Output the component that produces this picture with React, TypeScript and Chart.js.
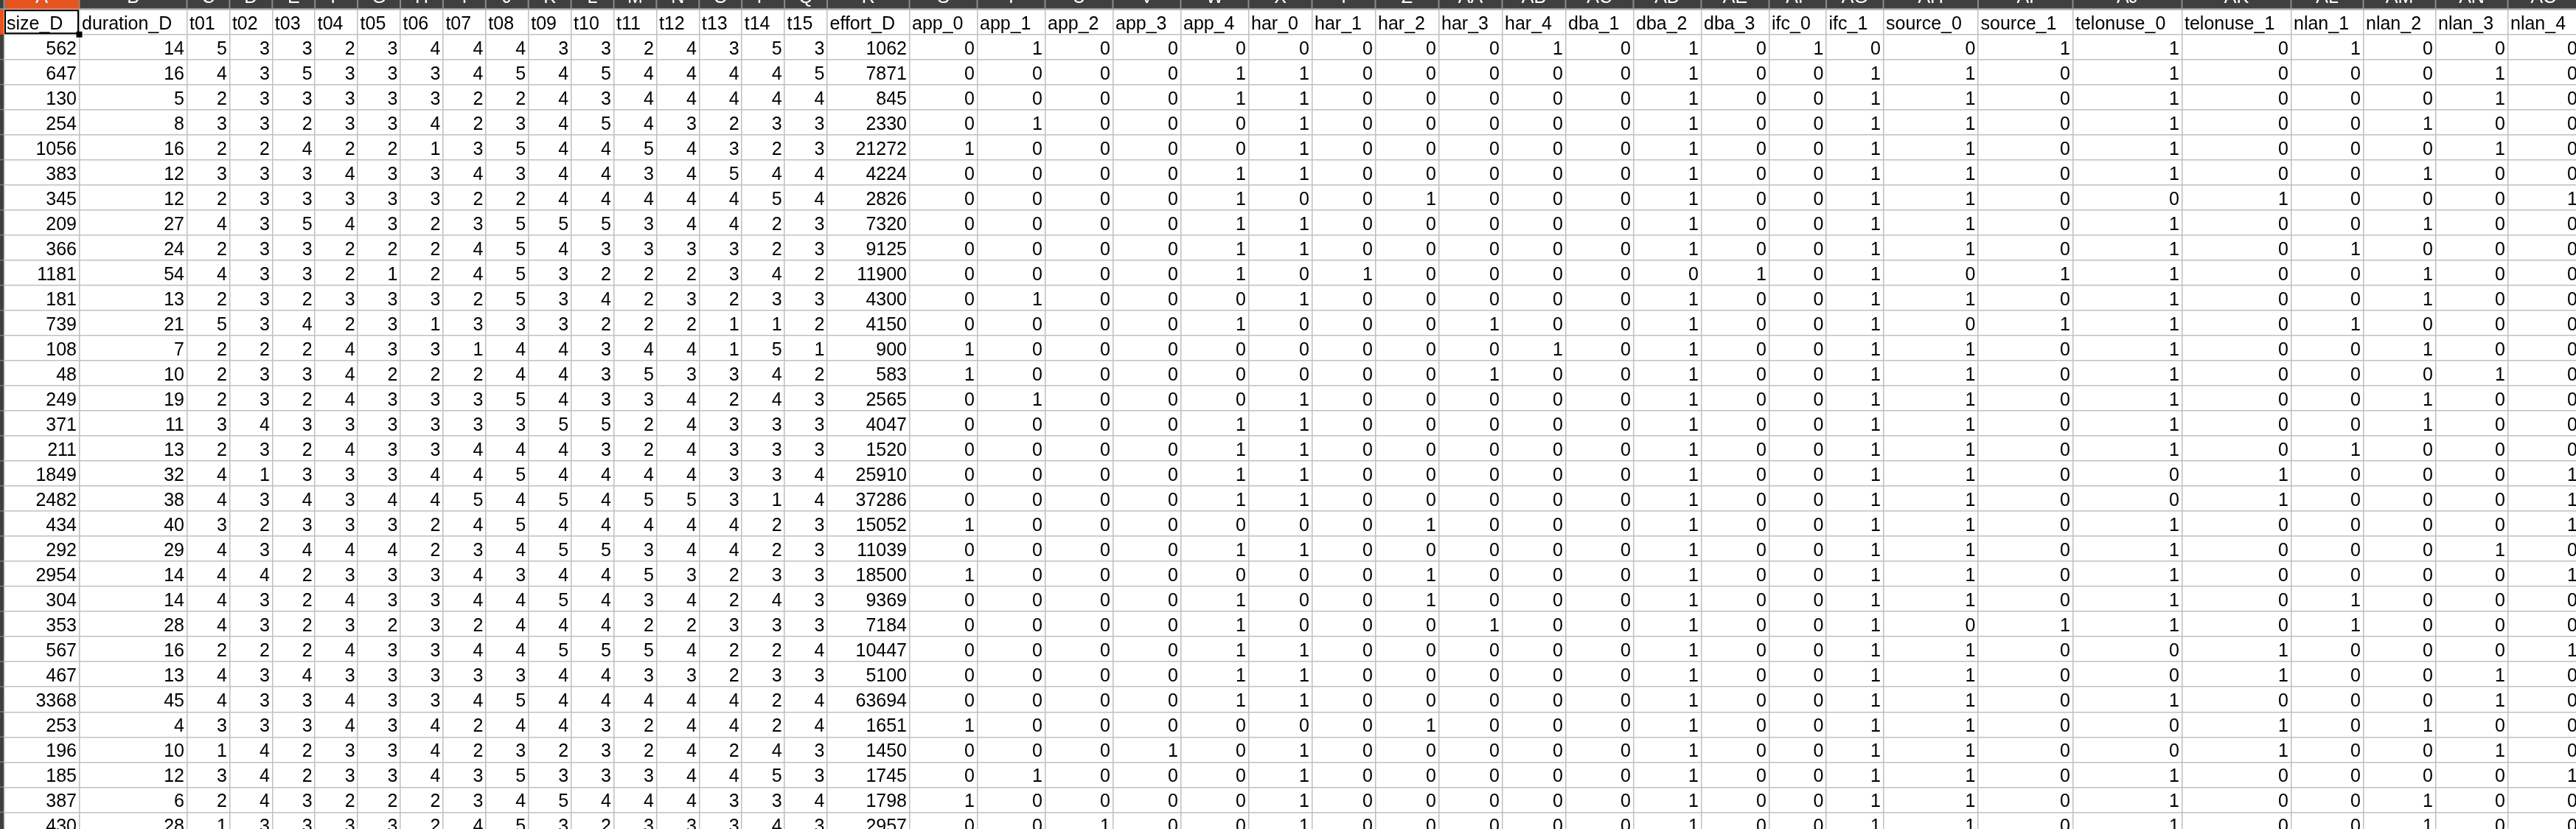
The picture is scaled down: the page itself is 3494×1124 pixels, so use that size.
import { useEffect, useRef } from 'react'
import { Chart, ScatterController, PointElement, LinearScale } from 'chart.js'

Chart.register(ScatterController, PointElement, LinearScale)

// sheet data, one array per column, top to bottom
const size_D = [562, 647, 130, 254, 1056, 383, 345, 209, 366, 1181, 181, 739, 108, 48, 249, 371, 211, 1849, 2482, 434, 292, 2954, 304, 353, 567, 467, 3368, 253, 196, 185, 387, 430]
const duration_D = [14, 16, 5, 8, 16, 12, 12, 27, 24, 54, 13, 21, 7, 10, 19, 11, 13, 32, 38, 40, 29, 14, 14, 28, 16, 13, 45, 4, 10, 12, 6, 28]
const t01 = [5, 4, 2, 3, 2, 3, 2, 4, 2, 4, 2, 5, 2, 2, 2, 3, 2, 4, 4, 3, 4, 4, 4, 4, 2, 4, 4, 3, 1, 3, 2, 1]
const t02 = [3, 3, 3, 3, 2, 3, 3, 3, 3, 3, 3, 3, 2, 3, 3, 4, 3, 1, 3, 2, 3, 4, 3, 3, 2, 3, 3, 3, 4, 4, 4, 3]
const t03 = [3, 5, 3, 2, 4, 3, 3, 5, 3, 3, 2, 4, 2, 3, 2, 3, 2, 3, 4, 3, 4, 2, 2, 2, 2, 4, 3, 3, 2, 2, 3, 3]
const t04 = [2, 3, 3, 3, 2, 4, 3, 4, 2, 2, 3, 2, 4, 4, 4, 3, 4, 3, 3, 3, 4, 3, 4, 3, 4, 3, 4, 4, 3, 3, 2, 3]
const t05 = [3, 3, 3, 3, 2, 3, 3, 3, 2, 1, 3, 3, 3, 2, 3, 3, 3, 3, 4, 3, 4, 3, 3, 2, 3, 3, 3, 3, 3, 3, 2, 3]
const t06 = [4, 3, 3, 4, 1, 3, 3, 2, 2, 2, 3, 1, 3, 2, 3, 3, 3, 4, 4, 2, 2, 3, 3, 3, 3, 3, 3, 4, 4, 4, 2, 2]
const t07 = [4, 4, 2, 2, 3, 4, 2, 3, 4, 4, 2, 3, 1, 2, 3, 3, 4, 4, 5, 4, 3, 4, 4, 2, 4, 3, 4, 2, 2, 3, 3, 4]
const t08 = [4, 5, 2, 3, 5, 3, 2, 5, 5, 5, 5, 3, 4, 4, 5, 3, 4, 5, 4, 5, 4, 3, 4, 4, 4, 3, 5, 4, 3, 5, 4, 5]
const t09 = [3, 4, 4, 4, 4, 4, 4, 5, 4, 3, 3, 3, 4, 4, 4, 5, 4, 4, 5, 4, 5, 4, 5, 4, 5, 4, 4, 4, 2, 3, 5, 3]
const t10 = [3, 5, 3, 5, 4, 4, 4, 5, 3, 2, 4, 2, 3, 3, 3, 5, 3, 4, 4, 4, 5, 4, 4, 4, 5, 4, 4, 3, 3, 3, 4, 2]
const t11 = [2, 4, 4, 4, 5, 3, 4, 3, 3, 2, 2, 2, 4, 5, 3, 2, 2, 4, 5, 4, 3, 5, 3, 2, 5, 3, 4, 2, 2, 3, 4, 3]
const t12 = [4, 4, 4, 3, 4, 4, 4, 4, 3, 2, 3, 2, 4, 3, 4, 4, 4, 4, 5, 4, 4, 3, 4, 2, 4, 3, 4, 4, 4, 4, 4, 3]
const t13 = [3, 4, 4, 2, 3, 5, 4, 4, 3, 3, 2, 1, 1, 3, 2, 3, 3, 3, 3, 4, 4, 2, 2, 3, 2, 2, 4, 4, 2, 4, 3, 3]
const t14 = [5, 4, 4, 3, 2, 4, 5, 2, 2, 4, 3, 1, 5, 4, 4, 3, 3, 3, 1, 2, 2, 3, 4, 3, 2, 3, 2, 2, 4, 5, 3, 4]
const t15 = [3, 5, 4, 3, 3, 4, 4, 3, 3, 2, 3, 2, 1, 2, 3, 3, 3, 4, 4, 3, 3, 3, 3, 3, 4, 3, 4, 4, 3, 3, 4, 3]
const effort_D = [1062, 7871, 845, 2330, 21272, 4224, 2826, 7320, 9125, 11900, 4300, 4150, 900, 583, 2565, 4047, 1520, 25910, 37286, 15052, 11039, 18500, 9369, 7184, 10447, 5100, 63694, 1651, 1450, 1745, 1798, 2957]
const app_0 = [0, 0, 0, 0, 1, 0, 0, 0, 0, 0, 0, 0, 1, 1, 0, 0, 0, 0, 0, 1, 0, 1, 0, 0, 0, 0, 0, 1, 0, 0, 1, 0]
const app_1 = [1, 0, 0, 1, 0, 0, 0, 0, 0, 0, 1, 0, 0, 0, 1, 0, 0, 0, 0, 0, 0, 0, 0, 0, 0, 0, 0, 0, 0, 1, 0, 0]
const app_2 = [0, 0, 0, 0, 0, 0, 0, 0, 0, 0, 0, 0, 0, 0, 0, 0, 0, 0, 0, 0, 0, 0, 0, 0, 0, 0, 0, 0, 0, 0, 0, 1]
const app_3 = [0, 0, 0, 0, 0, 0, 0, 0, 0, 0, 0, 0, 0, 0, 0, 0, 0, 0, 0, 0, 0, 0, 0, 0, 0, 0, 0, 0, 1, 0, 0, 0]
const app_4 = [0, 1, 1, 0, 0, 1, 1, 1, 1, 1, 0, 1, 0, 0, 0, 1, 1, 1, 1, 0, 1, 0, 1, 1, 1, 1, 1, 0, 0, 0, 0, 0]
const har_0 = [0, 1, 1, 1, 1, 1, 0, 1, 1, 0, 1, 0, 0, 0, 1, 1, 1, 1, 1, 0, 1, 0, 0, 0, 1, 1, 1, 0, 1, 1, 1, 1]
const har_1 = [0, 0, 0, 0, 0, 0, 0, 0, 0, 1, 0, 0, 0, 0, 0, 0, 0, 0, 0, 0, 0, 0, 0, 0, 0, 0, 0, 0, 0, 0, 0, 0]
const har_2 = [0, 0, 0, 0, 0, 0, 1, 0, 0, 0, 0, 0, 0, 0, 0, 0, 0, 0, 0, 1, 0, 1, 1, 0, 0, 0, 0, 1, 0, 0, 0, 0]
const har_3 = [0, 0, 0, 0, 0, 0, 0, 0, 0, 0, 0, 1, 0, 1, 0, 0, 0, 0, 0, 0, 0, 0, 0, 1, 0, 0, 0, 0, 0, 0, 0, 0]
const har_4 = [1, 0, 0, 0, 0, 0, 0, 0, 0, 0, 0, 0, 1, 0, 0, 0, 0, 0, 0, 0, 0, 0, 0, 0, 0, 0, 0, 0, 0, 0, 0, 0]
const dba_1 = [0, 0, 0, 0, 0, 0, 0, 0, 0, 0, 0, 0, 0, 0, 0, 0, 0, 0, 0, 0, 0, 0, 0, 0, 0, 0, 0, 0, 0, 0, 0, 0]
const dba_2 = [1, 1, 1, 1, 1, 1, 1, 1, 1, 0, 1, 1, 1, 1, 1, 1, 1, 1, 1, 1, 1, 1, 1, 1, 1, 1, 1, 1, 1, 1, 1, 1]
const dba_3 = [0, 0, 0, 0, 0, 0, 0, 0, 0, 1, 0, 0, 0, 0, 0, 0, 0, 0, 0, 0, 0, 0, 0, 0, 0, 0, 0, 0, 0, 0, 0, 0]
const ifc_0 = [1, 0, 0, 0, 0, 0, 0, 0, 0, 0, 0, 0, 0, 0, 0, 0, 0, 0, 0, 0, 0, 0, 0, 0, 0, 0, 0, 0, 0, 0, 0, 0]
const ifc_1 = [0, 1, 1, 1, 1, 1, 1, 1, 1, 1, 1, 1, 1, 1, 1, 1, 1, 1, 1, 1, 1, 1, 1, 1, 1, 1, 1, 1, 1, 1, 1, 1]
const source_0 = [0, 1, 1, 1, 1, 1, 1, 1, 1, 0, 1, 0, 1, 1, 1, 1, 1, 1, 1, 1, 1, 1, 1, 0, 1, 1, 1, 1, 1, 1, 1, 1]
const source_1 = [1, 0, 0, 0, 0, 0, 0, 0, 0, 1, 0, 1, 0, 0, 0, 0, 0, 0, 0, 0, 0, 0, 0, 1, 0, 0, 0, 0, 0, 0, 0, 0]
const telonuse_0 = [1, 1, 1, 1, 1, 1, 0, 1, 1, 1, 1, 1, 1, 1, 1, 1, 1, 0, 0, 1, 1, 1, 1, 1, 0, 0, 1, 0, 0, 1, 1, 1]
const telonuse_1 = [0, 0, 0, 0, 0, 0, 1, 0, 0, 0, 0, 0, 0, 0, 0, 0, 0, 1, 1, 0, 0, 0, 0, 0, 1, 1, 0, 1, 1, 0, 0, 0]
const nlan_1 = [1, 0, 0, 0, 0, 0, 0, 0, 1, 0, 0, 1, 0, 0, 0, 0, 1, 0, 0, 0, 0, 0, 1, 1, 0, 0, 0, 0, 0, 0, 0, 0]
const nlan_2 = [0, 0, 0, 1, 0, 1, 0, 1, 0, 1, 1, 0, 1, 0, 1, 1, 0, 0, 0, 0, 0, 0, 0, 0, 0, 0, 0, 1, 0, 0, 1, 1]
const nlan_3 = [0, 1, 1, 0, 1, 0, 0, 0, 0, 0, 0, 0, 0, 1, 0, 0, 0, 0, 0, 0, 1, 0, 0, 0, 0, 1, 1, 0, 1, 0, 0, 0]
const nlan_4 = [0, 0, 0, 0, 0, 0, 1, 0, 0, 0, 0, 0, 0, 0, 0, 0, 0, 1, 1, 1, 0, 1, 0, 0, 1, 0, 0, 0, 0, 1, 0, 0]

const COLUMN_NAMES = [
  'size_D', 'duration_D', 't01', 't02', 't03', 't04', 't05', 't06', 't07', 't08', 't09', 't10', 't11', 't12', 't13', 't14', 't15',
  'effort_D', 'app_0', 'app_1', 'app_2', 'app_3', 'app_4', 'har_0', 'har_1', 'har_2', 'har_3', 'har_4',
  'dba_1', 'dba_2', 'dba_3', 'ifc_0', 'ifc_1', 'source_0', 'source_1', 'telonuse_0', 'telonuse_1',
  'nlan_1', 'nlan_2', 'nlan_3', 'nlan_4',
]
const COLUMN_LETTERS = [
  'A', 'B', 'C', 'D', 'E', 'F', 'G', 'H', 'I', 'J', 'K', 'L', 'M', 'N', 'O', 'P', 'Q', 'R', 'S', 'T', 'U', 'V', 'W', 'X', 'Y', 'Z',
  'AA', 'AB', 'AC', 'AD', 'AE', 'AF', 'AG', 'AH', 'AI', 'AJ', 'AK', 'AL', 'AM', 'AN', 'AO',
]
const COLUMNS = [
  size_D, duration_D, t01, t02, t03, t04, t05, t06, t07, t08, t09, t10, t11, t12, t13, t14, t15,
  effort_D, app_0, app_1, app_2, app_3, app_4, har_0, har_1, har_2, har_3, har_4,
  dba_1, dba_2, dba_3, ifc_0, ifc_1, source_0, source_1, telonuse_0, telonuse_1,
  nlan_1, nlan_2, nlan_3, nlan_4,
]

// layout (pixels)
const WIDTH = 3494
const HEIGHT = 1124
const LEFT = 5.5
const TOP = 12.7
const ROW_H = 34.02
const PAD = 3.5
const COL_WIDTHS = [
  102, 146,
  57.9, 57.9, 57.9, 57.9, 57.9, 57.9, 57.9, 57.9, 57.9, 57.9, 57.9, 57.9, 57.9, 57.9, 57.9,
  111.5, 92, 92, 92, 92, 92, 86, 86, 86, 86, 86,
  92, 92, 92, 77.5, 77.5, 128.5, 128.5, 148, 148,
  98, 98, 98, 98,
]
const COL_EDGES = COL_WIDTHS.reduce((acc, w) => [...acc, acc[acc.length - 1] + w], [LEFT])
const ROW_COUNT = size_D.length + 1
const ROW_EDGES = Array.from({ length: ROW_COUNT + 2 }, (_, i) => i)
const Y_MIN = -TOP / ROW_H
const Y_MAX = Y_MIN + HEIGHT / ROW_H

const FONT = '25px "Liberation Sans", Arial, sans-serif'
const GRID = '#c0c0c0'
const BAR = '#3f3f3f'
const ACCENT = '#e6541f'

const sheetPlugin = {
  id: 'sheet',
  beforeDraw(chart: any) {
    const { ctx } = chart
    ctx.save()
    ctx.fillStyle = '#ffffff'
    ctx.fillRect(0, 0, chart.width, chart.height)
    ctx.restore()
  },
  afterDatasetsDraw(chart: any) {
    const { ctx } = chart
    const x = chart.scales.x
    const y = chart.scales.y
    ctx.save()
    ctx.font = FONT
    ctx.fillStyle = '#000000'
    ctx.textBaseline = 'alphabetic'

    // cell values
    ctx.textAlign = 'right'
    chart.data.datasets.forEach((_: any, i: number) => {
      chart.getDatasetMeta(i).data.forEach((pt: any, r: number) => {
        ctx.fillText(String(COLUMNS[i][r]), pt.x, pt.y + 10)
      })
    })

    // field names in row 1
    ctx.textAlign = 'left'
    COLUMN_NAMES.forEach((name, i) => {
      ctx.fillText(name, x.getPixelForValue(COL_EDGES[i]) + PAD, y.getPixelForValue(0.5) + 10)
    })

    // column letter bar
    const barBottom = y.getPixelForValue(0)
    ctx.fillStyle = BAR
    ctx.fillRect(0, 0, chart.width, barBottom - 1)
    ctx.fillStyle = ACCENT
    ctx.fillRect(x.getPixelForValue(COL_EDGES[0]), 0, x.getPixelForValue(COL_EDGES[1]) - x.getPixelForValue(COL_EDGES[0]), barBottom - 1)
    ctx.fillStyle = '#8a8a8a'
    COL_EDGES.forEach((edge) => ctx.fillRect(x.getPixelForValue(edge) - 1, 0, 2, barBottom - 1))
    ctx.fillStyle = '#b4b4b4'
    ctx.fillRect(0, barBottom - 1, chart.width, 2)
    ctx.fillStyle = '#ffffff'
    ctx.textAlign = 'center'
    COLUMN_LETTERS.forEach((letter, i) => {
      const cx = (x.getPixelForValue(COL_EDGES[i]) + x.getPixelForValue(COL_EDGES[i + 1])) / 2
      ctx.fillText(letter, cx, barBottom - 9)
    })

    // row header strip on the left
    const stripRight = x.getPixelForValue(COL_EDGES[0]) - 0.5
    ctx.fillStyle = BAR
    ctx.fillRect(0, barBottom, stripRight, chart.height - barBottom)
    ctx.fillStyle = ACCENT
    ctx.fillRect(0, barBottom, stripRight, y.getPixelForValue(1) - barBottom)
    ctx.fillStyle = '#777777'
    ROW_EDGES.slice(2).forEach((r) => ctx.fillRect(0, y.getPixelForValue(r) - 1, stripRight, 1.5))

    // cell cursor on A1
    const ax0 = x.getPixelForValue(COL_EDGES[0])
    const ax1 = x.getPixelForValue(COL_EDGES[1])
    const ay0 = y.getPixelForValue(0)
    const ay1 = y.getPixelForValue(1)
    ctx.strokeStyle = '#000000'
    ctx.lineWidth = 2
    ctx.strokeRect(ax0 + 1.5, ay0 + 1.5, ax1 - ax0 - 3, ay1 - ay0 - 3)
    ctx.fillStyle = '#000000'
    ctx.fillRect(ax1 - 4, ay1 - 4, 8, 8)
    ctx.restore()
  },
}

export default function App() {
  const ref = useRef<HTMLCanvasElement | null>(null)

  useEffect(() => {
    document.body.style.margin = '0'
    document.body.style.overflow = 'hidden'
    if (!ref.current) return
    const ctx = ref.current.getContext('2d')
    if (!ctx) return

    const datasets = COLUMNS.map((values, i) => ({
      label: COLUMN_NAMES[i],
      data: values.map((_, r) => ({ x: COL_EDGES[i + 1] - PAD, y: r + 1.5 })),
      pointRadius: 0,
      pointHoverRadius: 0,
    }))

    const chart = new Chart(ctx, {
      type: 'scatter',
      data: { datasets },
      options: {
        animation: false,
        responsive: false,
        events: [],
        layout: { padding: 0 },
        scales: {
          x: {
            type: 'linear',
            min: 0,
            max: WIDTH,
            ticks: { display: false },
            border: { display: false },
            grid: { color: GRID, lineWidth: 1.5, drawTicks: false },
            afterBuildTicks: (scale: any) => {
              scale.ticks = COL_EDGES.map((value) => ({ value }))
            },
          },
          y: {
            type: 'linear',
            reverse: true,
            min: Y_MIN,
            max: Y_MAX,
            ticks: { display: false },
            border: { display: false },
            grid: { color: GRID, lineWidth: 1.5, drawTicks: false },
            afterBuildTicks: (scale: any) => {
              scale.ticks = ROW_EDGES.map((value) => ({ value }))
            },
          },
        },
      },
      plugins: [sheetPlugin],
    } as any)
    return () => chart.destroy()
  }, [])

  return <canvas ref={ref} width={WIDTH} height={HEIGHT} style={{ display: 'block' }} />
}
